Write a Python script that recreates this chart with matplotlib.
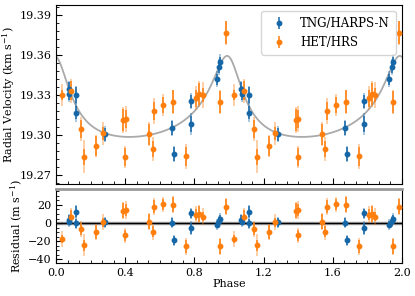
import numpy as np
import matplotlib
matplotlib.use('Agg')
import matplotlib.pyplot as plt
from matplotlib.ticker import AutoMinorLocator, MultipleLocator

plt.rcParams['font.family'] = 'serif'
plt.rcParams['font.serif'] = ['DejaVu Serif']
plt.rcParams['mathtext.fontset'] = 'dejavuserif'
plt.rcParams['font.size'] = 8

# TNG/HARPS-N: phase, RV (km/s), residual (m/s), errors (km/s)
tng_phase = [0.072, 0.075, 0.116, 0.116, 0.282, 0.671, 0.683, 0.780, 0.781, 0.928, 0.943, 0.947]
tng_rv = [19.3345, 19.3305, 19.3300, 19.3167, 19.3005, 19.3052, 19.2858, 19.3083, 19.3252,
          19.3418, 19.3513, 19.3548]
tng_resid = [3.5, 1.6, 12.6, 0.0, 1.0, 0.6, -19.2, -5.6, 10.8, -2.0, 2.0, 4.6]
tng_err = [0.005, 0.004, 0.006, 0.005, 0.005, 0.005, 0.005, 0.006, 0.005, 0.004, 0.005, 0.004]
tng_err_jit = [0.006, 0.006, 0.007, 0.007, 0.006, 0.006, 0.006, 0.008, 0.006, 0.006, 0.006, 0.006]

# HET/HRS
het_phase = [0.031, 0.085, 0.143, 0.160, 0.230, 0.268, 0.388, 0.401, 0.399, 0.536,
             0.558, 0.565, 0.617, 0.677, 0.752, 0.808, 0.827, 0.847, 0.949, 0.984]
het_rv = [19.3300, 19.3332, 19.3045, 19.2837, 19.2918, 19.3013, 19.3112, 19.3120, 19.2835, 19.3005,
          19.2898, 19.3180, 19.3225, 19.3250, 19.2840, 19.3275, 19.3308, 19.3300, 19.3247, 19.3767]
het_resid = [-17.7, 7.1, -6.4, -24.3, -10.0, 1.0, 13.7, 14.5, -13.7, 1.6,
             -9.7, 18.1, 20.7, 20.3, -25.8, 9.4, 10.1, 7.2, -25.8, 18.1]
het_err = [0.004, 0.007, 0.007, 0.006, 0.0075, 0.005, 0.0085, 0.007, 0.0065, 0.008,
           0.006, 0.007, 0.006, 0.0085, 0.007, 0.0065, 0.0085, 0.005, 0.0085, 0.0085]
het_err_jit = [0.0085, 0.009, 0.009, 0.0125, 0.0085, 0.0085, 0.0095, 0.0095, 0.0085, 0.009,
               0.009, 0.0095, 0.0085, 0.009, 0.0095, 0.009, 0.0095, 0.0095, 0.009, 0.009]

# Keplerian orbit fit (phase units)
k_amp = 0.0304
ecc = 0.45
omega = np.radians(12.0)
t_peri = 0.0
gamma = 19.3156

BLUE = '#1667a8'
ORANGE = '#ff7f0e'


def kepler_rv(phase):
    m = 2 * np.pi * (phase - t_peri)
    e_anom = m.copy()
    for _ in range(50):
        e_anom = e_anom - (e_anom - ecc * np.sin(e_anom) - m) / (1 - ecc * np.cos(e_anom))
    nu = 2 * np.arctan2(np.sqrt(1 + ecc) * np.sin(e_anom / 2), np.sqrt(1 - ecc) * np.cos(e_anom / 2))
    return gamma + k_amp * (np.cos(nu + omega) + ecc * np.cos(omega))


def draw_set(ax, phase, y, err, err_jit, color, label, scale=1.0):
    phase = np.asarray(phase)
    both = np.concatenate([phase, phase + 1])
    yy = np.concatenate([y, y])
    e1 = np.concatenate([err, err]) * scale
    e2 = np.concatenate([err_jit, err_jit]) * scale
    ax.errorbar(both, yy, yerr=e2, fmt='none', ecolor=color, elinewidth=1.3, alpha=0.4, zorder=2)
    ax.errorbar(both, yy, yerr=e1, fmt='o', color=color, ms=3.2, elinewidth=1.1,
                capsize=0, label=label, zorder=3)


fig = plt.figure(figsize=(4.15, 2.96), dpi=100)
ax1 = fig.add_axes([0.1357, 0.378, 0.8323, 0.605])
ax2 = fig.add_axes([0.1357, 0.1115, 0.8323, 0.2515])

grid = np.linspace(0, 2, 800)
ax1.plot(grid, kepler_rv(grid), color='#aaaaaa', lw=1.3, zorder=1)
draw_set(ax1, tng_phase, tng_rv, tng_err, tng_err_jit, BLUE, 'TNG/HARPS-N')
draw_set(ax1, het_phase, het_rv, het_err, het_err_jit, ORANGE, 'HET/HRS')

ax2.axhline(0, color='#aaaaaa', lw=2.5, zorder=0)
ax2.axhline(0, color='black', lw=1.0, zorder=1)
draw_set(ax2, tng_phase, tng_resid, tng_err, tng_err_jit, BLUE, None, scale=1000)
draw_set(ax2, het_phase, het_resid, het_err, het_err_jit, ORANGE, None, scale=1000)

ax1.set_xlim(0, 2)
ax1.set_ylim(19.2632, 19.3975)
ax1.set_yticks([19.27, 19.30, 19.33, 19.36, 19.39])
ax1.set_ylabel('Radial Velocity (km s$^{-1}$)', labelpad=2)
ax1.yaxis.set_minor_locator(AutoMinorLocator(5))

ax2.set_xlim(0, 2)
ax2.set_ylim(-44, 38)
ax2.set_yticks([-40, -20, 0, 20])
ax2.set_xlabel('Phase', labelpad=1)
ax2.set_ylabel('Residual (m s$^{-1}$)', labelpad=2)
ax2.yaxis.set_minor_locator(AutoMinorLocator(4))
ax2.spines['top'].set_color('#999999')
ax2.spines['top'].set_linewidth(2)

for ax in (ax1, ax2):
    ax.xaxis.set_major_locator(MultipleLocator(0.4))
    ax.xaxis.set_minor_locator(AutoMinorLocator(6))
    ax.tick_params(which='both', direction='in', labelsize=8)
    ax.tick_params(which='major', length=4)
    ax.tick_params(which='minor', length=2)
ax1.xaxis.set_major_formatter(plt.NullFormatter())
ax2.xaxis.set_major_formatter(plt.FuncFormatter(lambda v, p: f'{v:.1f}'))

ax1.legend(loc='upper right', fontsize=8.5, handletextpad=0.8, borderpad=0.5)

fig.align_ylabels([ax1, ax2])
fig.savefig('out.png', dpi=100)
